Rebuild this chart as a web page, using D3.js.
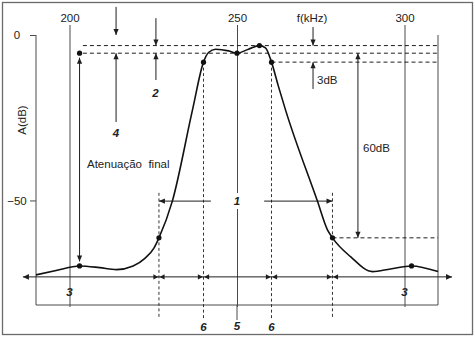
<!DOCTYPE html>
<html>
<head>
<meta charset="utf-8">
<script src="https://cdn.jsdelivr.net/npm/d3@7"></script>
<style>
  html, body { margin: 0; padding: 0; background: #fff; }
  svg { display: block; }
  text { font-family: "Liberation Sans", Arial, sans-serif; fill: #222; }
</style>
</head>
<body>
<svg id="chart" width="475" height="337"></svg>
<script>
// Band-pass filter response: attenuation A (dB) versus frequency f (kHz)
const freqTicks = [200, 250, 300];
const dbTicks = [0, -50];

// Response curve samples
const curveFreq = [190.0, 196.0, 203.0, 209.0, 214.0, 219.0, 222.5, 225.2, 226.7, 230.7, 236.7, 240.0,
                   241.5, 243.6, 247.5, 250.0, 253.4, 256.7, 258.5, 260.3, 262.3, 264.5, 274.0, 277.0,
                   278.5, 283.9, 290.4, 295.8, 302.1, 310.0];
const curveDb   = [-72.5, -71.2, -69.8, -70.3, -70.9, -69.8, -67.5, -64.4, -61.3, -50.2, -22.7, -8.2,
                   -5.3, -4.3, -4.8, -5.5, -4.3, -3.2, -3.9, -8.2, -15.3, -22.7, -50.2, -58.9,
                   -61.3, -67.0, -71.5, -70.7, -69.8, -71.5];

// Marked points (dots)
const dotFreq = [203.0, 226.7, 240.0, 250.0, 256.7, 260.3, 278.5, 302.1, 203.0];
const dotDb   = [-69.8, -61.3, -8.2, -5.5, -3.2, -8.2, -61.3, -69.8, -5.5];

// Reference levels (dashed horizontals): level, start frequency
const refLevelDb   = [-3.2, -5.5, -8.2, -61.3];
const refLevelFrom = [204.0, 204.0, 260.3, 278.5];

// Band edges (dashed verticals): frequency, top level
const edgeFreq  = [226.7, 240.0, 260.3, 278.5];
const edgeTopDb = [-47.7, -8.2, -8.2, -47.7];

// Band segments along the bottom dimension line
const bandBounds = [186.1, 226.7, 240.0, 260.3, 278.5, 314.2];
const bandLineDb = -73.1;

const xScale = d3.scaleLinear().domain([190, 310]).range([36, 438]);
const yScale = d3.scaleLinear().domain([0, -81.6]).range([35, 305]);

const svg = d3.select("#chart");
const ink = "#1e1e1e";
const frameInk = "#4a4a4a";

// Outer border
svg.append("rect").attr("x", 2.5).attr("y", 2.5).attr("width", 470).attr("height", 332)
  .attr("fill", "none").attr("stroke", "#6a6a6a").attr("stroke-width", 1.3);

// Plot frame
const [x0, x1] = xScale.range();
const [y0, y1] = yScale.range();
svg.append("path")
  .attr("d", `M${x0},${y0}V${y1}H${x1}V${y0}`)
  .attr("fill", "none").attr("stroke", frameInk).attr("stroke-width", 1);

// Frequency axis: labels on top, lines running through the plot
const xAxis = svg.append("g").attr("transform", "translate(0,307)")
  .call(d3.axisTop(xScale).tickValues(freqTicks).tickSizeInner(282).tickSizeOuter(0).tickPadding(3));
xAxis.select(".domain").remove();
xAxis.selectAll("line").attr("stroke", frameInk).attr("stroke-width", 1);
xAxis.selectAll("text").attr("font-size", 11.5).attr("fill", ink)
  .style("font-family", "'Liberation Sans', Arial, sans-serif");

// Centre frequency line continues below the frame
svg.append("line").attr("x1", xScale(250)).attr("x2", xScale(250)).attr("y1", 305).attr("y2", 320)
  .attr("stroke", frameInk).attr("stroke-width", 1);

// Attenuation axis
const yAxis = svg.append("g").attr("transform", `translate(${x0},0)`)
  .call(d3.axisLeft(yScale).tickValues(dbTicks).tickSizeInner(6).tickSizeOuter(0).tickPadding(4));
yAxis.select(".domain").remove();
yAxis.selectAll("line").attr("stroke", frameInk).attr("stroke-width", 1);
yAxis.selectAll("text").attr("font-size", 11.5).attr("fill", ink)
  .attr("text-anchor", "middle").attr("x", -19)
  .style("font-family", "'Liberation Sans', Arial, sans-serif");

svg.append("text").attr("transform", "translate(26,120) rotate(-90)")
  .attr("text-anchor", "middle").attr("font-size", 11.5).text("A(dB)");

// Dashed reference levels
refLevelDb.forEach((db, i) => {
  svg.append("line")
    .attr("x1", xScale(refLevelFrom[i])).attr("x2", x1)
    .attr("y1", yScale(db)).attr("y2", yScale(db))
    .attr("stroke", ink).attr("stroke-width", 1).attr("stroke-dasharray", "4,3");
});

// Dashed band edges
edgeFreq.forEach((f, i) => {
  svg.append("line")
    .attr("x1", xScale(f)).attr("x2", xScale(f))
    .attr("y1", yScale(edgeTopDb[i])).attr("y2", i === 0 || i === 3 ? 318 : 320)
    .attr("stroke", ink).attr("stroke-width", 0.9).attr("stroke-dasharray", "3,2.5");
});

// Arrow helpers
function head(x, y, dir, len = 6, hw = 2.6) {
  let p;
  if (dir === "down") p = [[x, y], [x - hw, y - len], [x + hw, y - len]];
  else if (dir === "up") p = [[x, y], [x - hw, y + len], [x + hw, y + len]];
  else if (dir === "left") p = [[x, y], [x + len, y - hw], [x + len, y + hw]];
  else p = [[x, y], [x - len, y - hw], [x - len, y + hw]];
  svg.append("path").attr("d", "M" + p.join("L") + "Z").attr("fill", ink);
}
function line(xa, ya, xb, yb, w = 1) {
  svg.append("line").attr("x1", xa).attr("y1", ya).attr("x2", xb).attr("y2", yb)
    .attr("stroke", ink).attr("stroke-width", w);
}
function vArrow(f, fromDb, toDb, both = false, gap = 0) {
  const x = xScale(f);
  const ya = yScale(fromDb), yb = yScale(toDb);
  const s = Math.sign(yb - ya);
  const ta = ya + s * gap, tb = yb - s * gap;
  line(x, ta, x, tb);
  head(x, tb, s > 0 ? "down" : "up");
  if (both) head(x, ta, s > 0 ? "up" : "down");
}
function hArrow(db, fromF, toF) {
  const y = yScale(db);
  const xa = xScale(fromF), xb = xScale(toF);
  line(xa, y, xb, y);
  head(xb, y, xb > xa ? "right" : "left");
}

// Annotation arrows
vArrow(213.9, 8.5, 0);          // top marker
vArrow(213.9, -26.3, -5.5);     // 4
vArrow(225.8, 5.1, -3.2);       // 2 (down)
vArrow(225.8, -13.6, -5.5);     // 2 (up)
vArrow(272.7, 2.4, -3.2);       // f(kHz)
vArrow(272.7, -16.3, -8.2);     // 3dB
vArrow(286.1, -5.5, -61.3, true);        // 60dB
vArrow(203.0, -5.5, -69.8, true, 4.5);   // final attenuation

// Bandwidth at -50 dB (1)
hArrow(-50.2, 242.2, 226.7);
hArrow(-50.2, 258.1, 278.5);

// Bottom dimension line with band segments
{
  const y = yScale(bandLineDb);
  line(xScale(bandBounds[0]), y, xScale(bandBounds[bandBounds.length - 1]), y);
  head(xScale(bandBounds[0]), y, "left", 6, 2.8);
  head(xScale(bandBounds[bandBounds.length - 1]), y, "right", 6, 2.8);
  bandBounds.slice(1, -1).forEach(f => {
    head(xScale(f) - 0.6, y, "right", 5, 2.6);
    head(xScale(f) + 0.6, y, "left", 5, 2.6);
  });
}

// Response curve
const pts = curveFreq.map((f, i) => [f, curveDb[i]]);
svg.append("path")
  .datum(pts)
  .attr("d", d3.line().x(d => xScale(d[0])).y(d => yScale(d[1])).curve(d3.curveMonotoneX))
  .attr("fill", "none").attr("stroke", "#111").attr("stroke-width", 1.6);

// Dots
dotFreq.forEach((f, i) => {
  svg.append("circle").attr("cx", xScale(f)).attr("cy", yScale(dotDb[i])).attr("r", 2.6).attr("fill", "#111");
});

// Plain labels
svg.append("text").attr("x", xScale(272.4)).attr("y", 22).attr("text-anchor", "middle")
  .attr("font-size", 11.5).text("f(kHz)");
svg.append("text").attr("x", 317).attr("y", 84).attr("font-size", 11.5).text("3dB");
svg.append("text").attr("x", 363).attr("y", 152).attr("font-size", 11.5).text("60dB");
svg.append("text").attr("x", 87).attr("y", 168).attr("font-size", 11.5)
  .attr("xml:space", "preserve").style("white-space", "pre").text("Atenuação  final");

// Numbered callouts
function tag(x, y, t) {
  svg.append("text").attr("x", x).attr("y", y).attr("text-anchor", "middle")
    .attr("font-size", 11.5).attr("font-weight", "bold").attr("font-style", "italic").text(t);
}
// gap in the centre line behind the "1" label
svg.append("rect").attr("x", xScale(250) - 5).attr("y", 193).attr("width", 10).attr("height", 16).attr("fill", "#fff");
tag(xScale(250), 205, "1");
tag(155.5, 97, "2");
tag(116, 137, "4");
tag(xScale(200), 296, "3");
tag(xScale(300), 296, "3");
tag(xScale(240), 331, "6");
tag(xScale(250), 330, "5");
tag(xScale(260.3), 331, "6");
</script>
</body>
</html>
